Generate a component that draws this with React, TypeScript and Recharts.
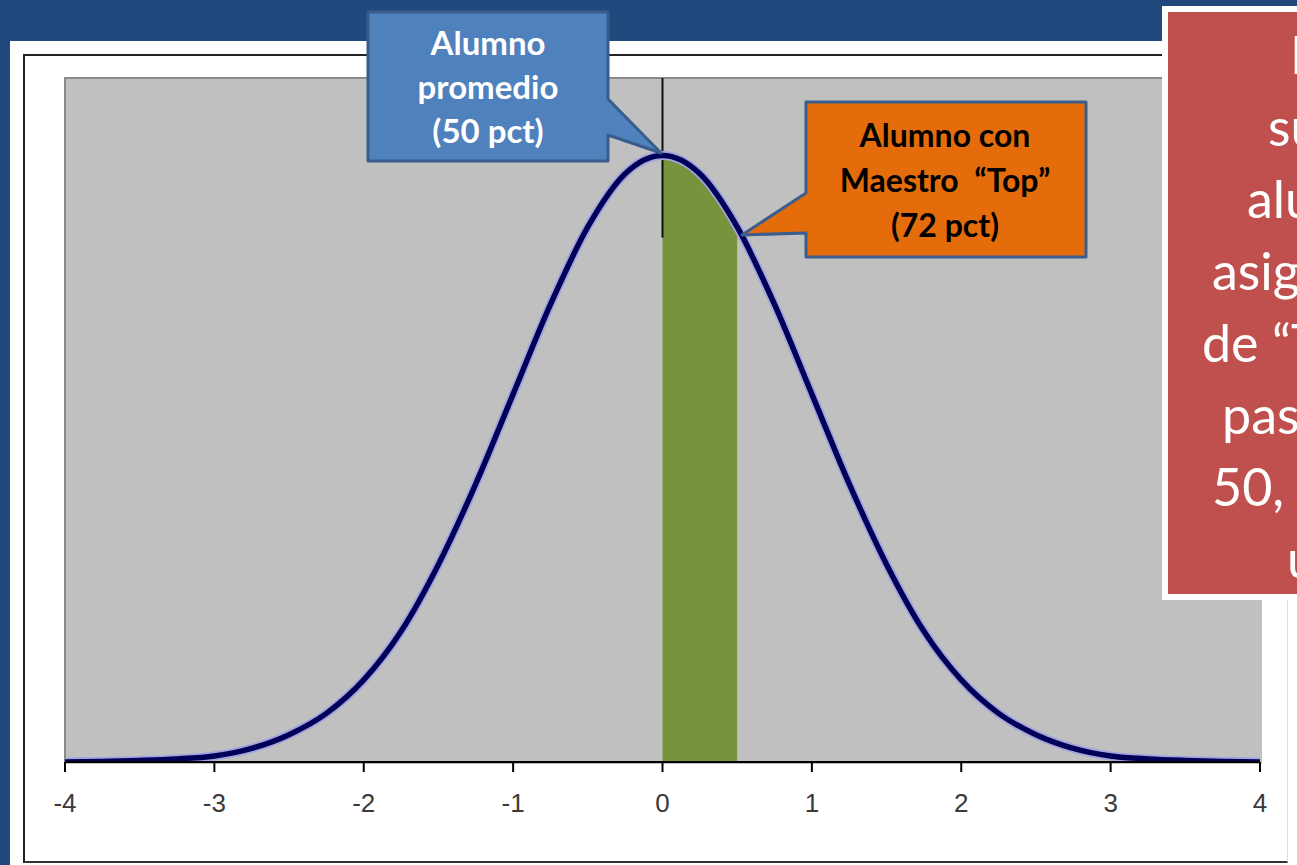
import React from 'react';
import { Area, CartesianGrid, ComposedChart, Line, ReferenceLine, XAxis, YAxis } from 'recharts';

// Curva normal (z, densidad)
const zValues = [-4, -3.75, -3.5, -3.25, -3, -2.75, -2.5, -2.25, -2, -1.75, -1.5, -1.25, -1, -0.75, -0.5, -0.25, 0, 0.25, 0.5, 0.75, 1, 1.25, 1.5, 1.75, 2, 2.25, 2.5, 2.75, 3, 3.25, 3.5, 3.75, 4];
const density = [0, 0.0004, 0.001, 0.002, 0.004, 0.009, 0.018, 0.032, 0.054, 0.086, 0.13, 0.183, 0.242, 0.301, 0.352, 0.387, 0.399, 0.387, 0.352, 0.301, 0.242, 0.183, 0.13, 0.086, 0.054, 0.032, 0.018, 0.009, 0.004, 0.002, 0.001, 0.0004, 0];

// Zona verde (0 a 0.5)
const greenZ = [0, 0.13, 0.33, 0.5];
const greenDensity = [0.399, 0.397, 0.376, 0.35];

const xTicks = [-4, -3, -2, -1, 0, 1, 2, 3, 4];

const blueLines = ['Alumno', 'promedio', '(50 pct)'];
const orangeLines = ['Alumno con', 'Maestro  \u201CTop\u201D', '(72 pct)'];
const redLines = ['En promedio,', 'sustituir a un', 'alumno que es', 'asignado a un maestro', 'de \u201CTop\u201D por un a\u00F1o', 'pasar\u00EDa del percentil', '50, al percentil 72 en', 'un a\u00F1o.'];

const curveData = zValues.map((x, i) => ({ x, y: density[i] }));
const greenData = greenZ.map((x, i) => ({ x, y: greenDensity[i] }));

const redStarts = [1290, 1268, 1247, 1212, 1202, 1222, 1212, 1287];

const App: React.FC = () => {
  return (
    <div style={{ position: 'fixed', left: 0, top: 0, width: 1297, height: 865, overflow: 'hidden', background: '#1F497D' }}>
      {/* panel blanco */}
      <div style={{ position: 'absolute', left: 10, top: 41, width: 1300, height: 830, background: '#fff' }} />
      <div style={{ position: 'absolute', left: 23, top: 54, width: 1262, height: 805, borderLeft: '2px solid #222', borderTop: '2px solid #222', borderBottom: '2px solid #333', borderRight: '1px solid #ddd' }} />
      {/* área de trazado */}
      <div style={{ position: 'absolute', left: 64, top: 77, width: 1196, height: 685, background: '#C0C0C0', borderLeft: '2px solid #8a8a8a', borderTop: '2px solid #8a8a8a' }} />

      <div style={{ position: 'absolute', left: 0, top: 0 }}>
        <ComposedChart width={1297} height={865} margin={{ top: 78, right: 37, bottom: 63, left: 65 }}>
          <CartesianGrid horizontal={false} vertical={false} />
          <XAxis
            type="number"
            dataKey="x"
            domain={[-4, 4]}
            ticks={xTicks}
            interval={0}
            allowDataOverflow
            height={40}
            axisLine={{ stroke: '#000', strokeWidth: 2 }}
            tickLine={{ stroke: '#000', strokeWidth: 2 }}
            tickSize={10}
            tickMargin={22}
            tick={{ fill: '#3a3a3a', fontSize: 26, fontFamily: 'Liberation Sans, Arial, sans-serif' }}
          />
          <YAxis type="number" domain={[0, 0.45]} hide allowDataOverflow />
          <ReferenceLine segment={[{ x: 0, y: 0.345 }, { x: 0, y: 0.45 }]} stroke="#111" strokeWidth={2} />
          <Area
            data={greenData}
            dataKey="y"
            type="linear"
            fill="#77933C"
            fillOpacity={1}
            stroke="none"
            isAnimationActive={false}
          />
          <Line data={curveData} dataKey="y" type="monotone" stroke="#a3a3e0" strokeWidth={9} dot={false} isAnimationActive={false} />
          <Line data={curveData} dataKey="y" type="monotone" stroke="#000058" strokeWidth={5.5} dot={false} isAnimationActive={false} />
        </ComposedChart>
      </div>

      {/* llamadas */}
      <svg width={1297} height={865} style={{ position: 'absolute', left: 0, top: 0, pointerEvents: 'none' }}>
        <path d="M368,12 H608 V99 L661,153 L608,135 V161 H368 Z" fill="#4F81BD" stroke="#385D8A" strokeWidth={3} strokeLinejoin="round" />
        {blueLines.map((t, i) => (
          <text key={t} x={488} y={55 + i * 44} textAnchor="middle" fill="#fff" fontSize={33} fontWeight="bold" fontFamily="Lato, 'Open Sans', sans-serif">
            {t}
          </text>
        ))}

        <path d="M806,102 H1086 V257 H806 V233 L742,235 L806,193 Z" fill="#E46C0A" stroke="#3B5E8C" strokeWidth={3} strokeLinejoin="round" />
        {orangeLines.map((t, i) => (
          <text key={t} x={945} y={147 + i * 45} textAnchor="middle" fill="#000" fontSize={32} fontWeight="bold" fontFamily="Lato, 'Open Sans', sans-serif" style={{ whiteSpace: 'pre' }}>
            {t}
          </text>
        ))}

        <rect x={1165} y={9} width={300} height={588} fill="#C0504D" stroke="#fff" strokeWidth={6} />
        {redLines.map((t, i) => (
          <text key={t} x={redStarts[i]} y={74 + i * 72} fill="#fff" fontSize={52} fontFamily="Lato, 'Open Sans', sans-serif">
            {t}
          </text>
        ))}
      </svg>
    </div>
  );
};

export default App;
